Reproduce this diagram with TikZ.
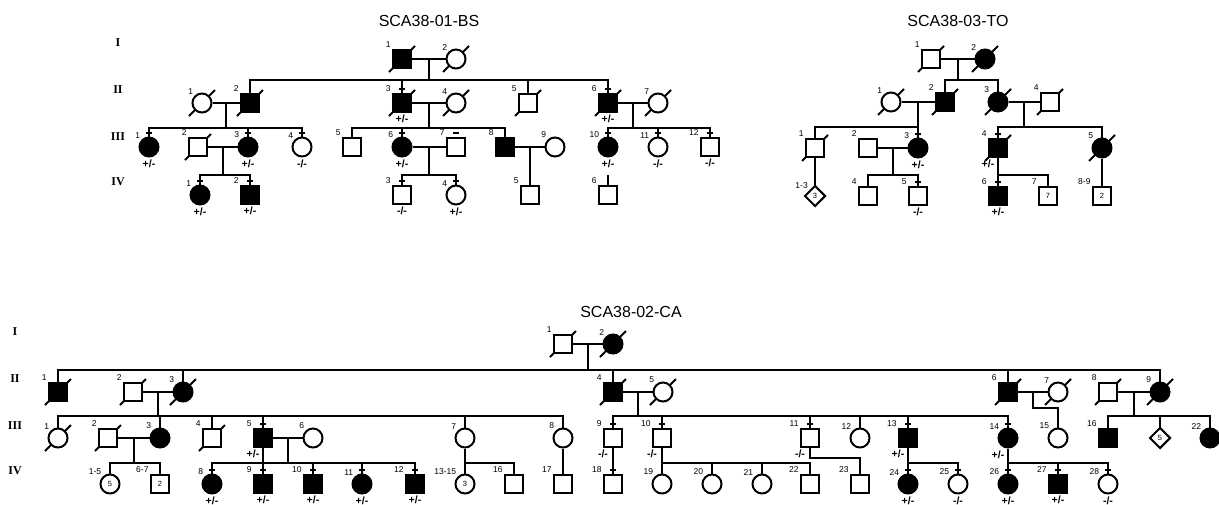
\documentclass[tikz,border=0pt]{standalone}
\usepackage{fontspec}
\setmainfont{Liberation Sans}
\newfontfamily\genfont{Liberation Serif}
\usetikzlibrary{calc,shapes.geometric,backgrounds}

\tikzset{
  male/.style={draw, rectangle, fill=white, minimum size=18pt, inner sep=0pt, font=\fontsize{7.5}{7.5}\selectfont},
  female/.style={draw, circle, fill=white, minimum size=19pt, inner sep=0pt, font=\fontsize{7.5}{7.5}\selectfont},
  unknown/.style={draw, diamond, fill=white, minimum size=21pt, inner sep=0pt, font=\fontsize{7.5}{7.5}\selectfont},
  aff/.style={fill=black},
  num/.style={font=\fontsize{8.5}{8.5}\selectfont, inner sep=0.5pt},
  geno/.style={font=\bfseries\fontsize{10.5}{10.5}\selectfont, inner sep=1pt},
  genol/.style={geno, xshift=-10pt},
  genl/.style={font=\genfont\bfseries\fontsize{12}{12}\selectfont},
  title/.style={font=\fontsize{16}{16}\selectfont},
}

% slash for deceased, tick for tested, lines for a sibship
\newcommand{\deceased}[1]{\draw (#1.center) ++(-13,13) -- ++(26,-26);}
\newcommand{\tested}[1]{\draw ([yshift=4pt]#1.north) ++(-3,0) -- ++(6,0);}
\newcommand{\sibship}[4]{\draw (#1) -- (#1 |- #2);
  \draw (#3.north) -- (#3 |- #2) -- (#4 |- #2) -- (#4.north);}
\newcommand{\sibdrop}[2]{\foreach \k in {#2} {\draw (\k.north) -- (\k |- #1);}}

\begin{document}
\begin{tikzpicture}[x=1pt, y=-1pt, every path/.append style={line width=2pt}]
\useasboundingbox (0,0) rectangle (1219,504);

% ---------------- SCA38-01-BS ----------------
\node[title] (titleBS) at (429,21) {SCA38-01-BS};
\node[genl] (bsgI) at (118,43) {I};
\node[genl] (bsgII) at (118,90) {II};
\node[genl] (bsgIII) at (118,137) {III};
\node[genl] (bsgIV) at (118,182) {IV};

% generation I
\node[male,aff,label={[num]135:1}] (aI1) at (402,59) {};
\node[female,label={[num]135:2}] (aI2) at (456,59) {};
% generation II
\node[female,label={[num]135:1}] (aII1) at (202,103) {};
\node[male,aff,label={[num]135:2}] (aII2) at (250,103) {};
\node[male,aff,label={[num]135:3},label={[geno]below:+/-}] (aII3) at (402,103) {};
\node[female,label={[num]135:4}] (aII4) at (456,103) {};
\node[male,label={[num]135:5}] (aII5) at (528,103) {};
\node[male,aff,label={[num]135:6},label={[geno]below:+/-}] (aII6) at (608,103) {};
\node[female,label={[num]135:7}] (aII7) at (658,103) {};
% generation III
\node[female,aff,label={[num]135:1},label={[geno]below:+/-}] (aIII1) at (149,147) {};
\node[male,label={[num]135:2}] (aIII2) at (198,147) {};
\node[female,aff,label={[num]135:3},label={[geno]below:+/-}] (aIII3) at (248,147) {};
\node[female,label={[num]135:4},label={[geno]below:-/-}] (aIII4) at (302,147) {};
\node[male,label={[num]135:5}] (aIII5) at (352,147) {};
\node[female,aff,label={[num]135:6},label={[geno]below:+/-}] (aIII6) at (402,147) {};
\node[male,label={[num]135:7}] (aIII7) at (456,147) {};
\node[male,aff,label={[num]135:8}] (aIII8) at (505,147) {};
\node[female,label={[num]135:9}] (aIII9) at (555,147) {};
\node[female,aff,label={[num]135:10},label={[geno]below:+/-}] (aIII10) at (608,147) {};
\node[female,label={[num]135:11},label={[geno]below:-/-}] (aIII11) at (658,147) {};
\node[male,label={[num]135:12},label={[geno]below:-/-}] (aIII12) at (710,147) {};
% generation IV
\node[female,aff,label={[num]135:1},label={[geno]below:+/-}] (aIV1) at (200,195) {};
\node[male,aff,label={[num]135:2},label={[geno]below:+/-}] (aIV2) at (250,195) {};
\node[male,label={[num]135:3},label={[geno]below:-/-}] (aIV3) at (402,195) {};
\node[female,label={[num]135:4},label={[geno]below:+/-}] (aIV4) at (456,195) {};
\node[male,label={[num]135:5}] (aIV5) at (530,195) {};
\node[male,label={[num]135:6}] (aIV6) at (608,195) {};

\coordinate (aL2) at (0,80);
\coordinate (aL3) at (0,128);
\coordinate (aL4) at (0,175);
\draw (aI1.east) -- (aI2.west);
\coordinate (aM1) at ($(aI1)!0.5!(aI2)$);
\sibship{aM1}{aL2}{aII2}{aII6}
\sibdrop{aL2}{aII3,aII5}
\draw (aII1.east) -- (aII2.west);
\coordinate (aM2) at ($(aII1)!0.5!(aII2)$);
\sibship{aM2}{aL3}{aIII1}{aIII4}
\sibdrop{aL3}{aIII3}
\draw (aII3.east) -- (aII4.west);
\coordinate (aM3) at ($(aII3)!0.5!(aII4)$);
\sibship{aM3}{aL3}{aIII5}{aIII8}
\sibdrop{aL3}{aIII6}
\draw (aII6.east) -- (aII7.west);
\coordinate (aM4) at ($(aII6)!0.5!(aII7)$);
\sibship{aM4}{aL3}{aIII10}{aIII12}
\sibdrop{aL3}{aIII11}
\draw (aIII2.east) -- (aIII3.west);
\coordinate (aM5) at ($(aIII2)!0.5!(aIII3)$);
\sibship{aM5}{aL4}{aIV1}{aIV2}
\draw (aIII6.east) -- (aIII7.west);
\coordinate (aM6) at ($(aIII6)!0.5!(aIII7)$);
\sibship{aM6}{aL4}{aIV3}{aIV4}
\draw (aIII8.east) -- (aIII9.west);
\coordinate (aM7) at ($(aIII8)!0.5!(aIII9)$);
\draw (aM7) -- (aIV5.north);
\draw (aIV6 |- aL4) -- (aIV6.north);

\foreach \n in {aII3,aII6,aIII1,aIII3,aIII4,aIII6,aIII7,aIII10,aIII11,aIII12,aIV1,aIV2,aIV3,aIV4}
  {\tested{\n}}

% ---------------- SCA38-03-TO ----------------
\node[title] (titleTO) at (958,21) {SCA38-03-TO};

% generation I
\node[male,label={[num]135:1}] (tI1) at (931,59) {};
\node[female,aff,label={[num]135:2}] (tI2) at (985,59) {};
% generation II
\node[female,label={[num]135:1}] (tII1) at (891,102) {};
\node[male,aff,label={[num]135:2}] (tII2) at (945,102) {};
\node[female,aff,label={[num]135:3}] (tII3) at (998,102) {};
\node[male,label={[num]135:4}] (tII4) at (1050,102) {};
% generation III
\node[male,label={[num]135:1}] (tIII1) at (815,148) {};
\node[male,label={[num]135:2}] (tIII2) at (868,148) {};
\node[female,aff,label={[num]135:3},label={[geno]below:+/-}] (tIII3) at (918,148) {};
\node[male,aff,label={[num]135:4},label={[genol]below:+/-}] (tIII4) at (998,148) {};
\node[female,aff,label={[num]135:5}] (tIII5) at (1102,148) {};
% generation IV
\node[unknown,label={[num]135:1-3}] (tIV13) at (815,196) {3};
\node[male,label={[num]135:4}] (tIV4) at (868,196) {};
\node[male,label={[num]135:5},label={[geno]below:-/-}] (tIV5) at (918,196) {};
\node[male,aff,label={[num]135:6},label={[geno]below:+/-}] (tIV6) at (998,196) {};
\node[male,label={[num]135:7}] (tIV7) at (1048,196) {7};
\node[male,label={[num]135:8-9}] (tIV89) at (1102,196) {2};

\coordinate (tL2) at (0,80);
\coordinate (tL3) at (0,127);
\coordinate (tL4) at (0,175);
\draw (tI1.east) -- (tI2.west);
\coordinate (tM1) at ($(tI1)!0.5!(tI2)$);
\sibship{tM1}{tL2}{tII2}{tII3}
\draw (tII1.east) -- (tII2.west);
\coordinate (tM2) at ($(tII1)!0.5!(tII2)$);
\sibship{tM2}{tL3}{tIII1}{tIII3}
\draw (tII3.east) -- (tII4.west);
\coordinate (tM3) at ($(tII3)!0.5!(tII4)$);
\sibship{tM3}{tL3}{tIII4}{tIII5}
\draw (tIII2.east) -- (tIII3.west);
\coordinate (tM4) at ($(tIII2)!0.5!(tIII3)$);
\sibship{tM4}{tL4}{tIV4}{tIV5}
\draw (tIII1.south) -- (tIV13.north);
\sibship{tIII4.south}{tL4}{tIV6}{tIV7}
\draw (tIII5.south) -- (tIV89.north);

\foreach \n in {tIII3,tIII4,tIV5,tIV6}
  {\tested{\n}}

% ---------------- SCA38-02-CA ----------------
\node[title] (titleCA) at (631,312) {SCA38-02-CA};
\node[genl] (cagI) at (15,332) {I};
\node[genl] (cagII) at (15,379) {II};
\node[genl] (cagIII) at (15,426) {III};
\node[genl] (cagIV) at (15,471) {IV};

% generation I
\node[male,label={[num]135:1}] (cI1) at (563,344) {};
\node[female,aff,label={[num]135:2}] (cI2) at (613,344) {};
% generation II
\node[male,aff,label={[num]135:1}] (cII1) at (58,392) {};
\node[male,label={[num]135:2}] (cII2) at (133,392) {};
\node[female,aff,label={[num]135:3}] (cII3) at (183,392) {};
\node[male,aff,label={[num]135:4}] (cII4) at (613,392) {};
\node[female,label={[num]135:5}] (cII5) at (663,392) {};
\node[male,aff,label={[num]135:6}] (cII6) at (1008,392) {};
\node[female,label={[num]135:7}] (cII7) at (1058,392) {};
\node[male,label={[num]135:8}] (cII8) at (1108,392) {};
\node[female,aff,label={[num]135:9}] (cII9) at (1160,392) {};
% generation III
\node[female,label={[num]135:1}] (cIII1) at (58,438) {};
\node[male,label={[num]135:2}] (cIII2) at (108,438) {};
\node[female,aff,label={[num]135:3}] (cIII3) at (160,438) {};
\node[male,label={[num]135:4}] (cIII4) at (212,438) {};
\node[male,aff,label={[num]135:5},label={[genol]below:+/-}] (cIII5) at (263,438) {};
\node[female,label={[num]135:6}] (cIII6) at (313,438) {};
\node[female,label={[num]135:7}] (cIII7) at (465,438) {};
\node[female,label={[num]135:8}] (cIII8) at (563,438) {};
\node[male,label={[num]135:9},label={[genol]below:-/-}] (cIII9) at (613,438) {};
\node[male,label={[num]135:10},label={[genol]below:-/-}] (cIII10) at (662,438) {};
\node[male,label={[num]135:11},label={[genol]below:-/-}] (cIII11) at (810,438) {};
\node[female,label={[num]135:12}] (cIII12) at (860,438) {};
\node[male,aff,label={[num]135:13},label={[genol]below:+/-}] (cIII13) at (908,438) {};
\node[female,aff,label={[num]135:14},label={[genol]below:+/-}] (cIII14) at (1008,438) {};
\node[female,label={[num]135:15}] (cIII15) at (1058,438) {};
\node[male,aff,label={[num]135:16}] (cIII16) at (1108,438) {};
\node[unknown] (cIII17) at (1160,438) {5};
\node[female,aff,label={[num]135:22}] (cIII22) at (1210,438) {};
% generation IV
\node[female,label={[num]135:1-5}] (cIV15) at (110,484) {5};
\node[male,label={[num]135:6-7}] (cIV67) at (160,484) {2};
\node[female,aff,label={[num]135:8},label={[geno]below:+/-}] (cIV8) at (212,484) {};
\node[male,aff,label={[num]135:9},label={[geno]below:+/-}] (cIV9) at (263,484) {};
\node[male,aff,label={[num]135:10},label={[geno]below:+/-}] (cIV10) at (313,484) {};
\node[female,aff,label={[num]135:11},label={[geno]below:+/-}] (cIV11) at (362,484) {};
\node[male,aff,label={[num]135:12},label={[geno]below:+/-}] (cIV12) at (415,484) {};
\node[female,label={[num]135:13-15}] (cIV1315) at (465,484) {3};
\node[male,label={[num]135:16}] (cIV16) at (514,484) {};
\node[male,label={[num]135:17}] (cIV17) at (563,484) {};
\node[male,label={[num]135:18}] (cIV18) at (613,484) {};
\node[female,label={[num]135:19}] (cIV19) at (662,484) {};
\node[female,label={[num]135:20}] (cIV20) at (712,484) {};
\node[female,label={[num]135:21}] (cIV21) at (762,484) {};
\node[male,label={[num]135:22}] (cIV22) at (810,484) {};
\node[male,label={[num]135:23}] (cIV23) at (860,484) {};
\node[female,aff,label={[num]135:24},label={[geno]below:+/-}] (cIV24) at (908,484) {};
\node[female,label={[num]135:25},label={[geno]below:-/-}] (cIV25) at (958,484) {};
\node[female,aff,label={[num]135:26},label={[geno]below:+/-}] (cIV26) at (1008,484) {};
\node[male,aff,label={[num]135:27},label={[geno]below:+/-}] (cIV27) at (1058,484) {};
\node[female,label={[num]135:28},label={[geno]below:-/-}] (cIV28) at (1108,484) {};

\coordinate (cL2) at (0,370);
\coordinate (cL3) at (0,416);
\coordinate (cL4) at (0,463);
\draw (cI1.east) -- (cI2.west);
\coordinate (cM1) at ($(cI1)!0.5!(cI2)$);
\sibship{cM1}{cL2}{cII1}{cII9}
\sibdrop{cL2}{cII3,cII4,cII6}
\draw (cII2.east) -- (cII3.west);
\coordinate (cM2) at ($(cII2)!0.5!(cII3)$);
\sibship{cM2}{cL3}{cIII1}{cIII8}
\sibdrop{cL3}{cIII3,cIII4,cIII5,cIII7}
\draw (cII4.east) -- (cII5.west);
\coordinate (cM3) at ($(cII4)!0.5!(cII5)$);
\sibship{cM3}{cL3}{cIII9}{cIII14}
\sibdrop{cL3}{cIII10,cIII11,cIII12,cIII13}
\draw (cII6.east) -- (cII7.west);
\coordinate (cM4) at ($(cII6)!0.5!(cII7)$);
\draw (cM4) -- ++(0,16) -| (cIII15.north);
\draw (cII8.east) -- (cII9.west);
\coordinate (cM5) at ($(cII8)!0.5!(cII9)$);
\sibship{cM5}{cL3}{cIII16}{cIII22}
\sibdrop{cL3}{cIII17}
\draw (cIII2.east) -- (cIII3.west);
\coordinate (cM6) at ($(cIII2)!0.5!(cIII3)$);
\sibship{cM6}{cL4}{cIV15}{cIV67}
\draw (cIII5.east) -- (cIII6.west);
\coordinate (cM7) at ($(cIII5)!0.5!(cIII6)$);
\sibship{cM7}{cL4}{cIV8}{cIV12}
\sibdrop{cL4}{cIV9,cIV10,cIV11}
\draw (cIII5.south) -- (cIII5 |- cL4);
\sibship{cIII7.south}{cL4}{cIV1315}{cIV16}
\draw (cIII8.south) -- (cIV17.north);
\draw (cIII9.south) -- (cIV18.north);
\sibship{cIII10.south}{cL4}{cIV19}{cIV22}
\sibdrop{cL4}{cIV20,cIV21}
\draw (cIII11.south) -- ++(0,10) -| (cIV23.north);
\sibship{cIII13.south}{cL4}{cIV24}{cIV25}
\sibship{cIII14.south}{cL4}{cIV26}{cIV28}
\sibdrop{cL4}{cIV27}

\foreach \n in {cIII5,cIII9,cIII10,cIII11,cIII13,cIII14,cIV8,cIV9,cIV10,cIV11,cIV12,cIV18,cIV24,cIV25,cIV26,cIV27,cIV28}
  {\tested{\n}}

% deceased slashes, behind the symbols
\begin{pgfonlayer}{background}
  \foreach \n in {aI1,aI2,aII1,aII2,aII3,aII4,aII5,aII6,aII7,aIII2,
                  tI1,tI2,tII1,tII2,tII3,tII4,tIII1,tIII4,tIII5,
                  cI1,cI2,cII1,cII2,cII3,cII4,cII5,cII6,cII7,cII8,cII9,cIII1,cIII2,cIII4}
    {\deceased{\n}}
\end{pgfonlayer}
\end{tikzpicture}
\end{document}
